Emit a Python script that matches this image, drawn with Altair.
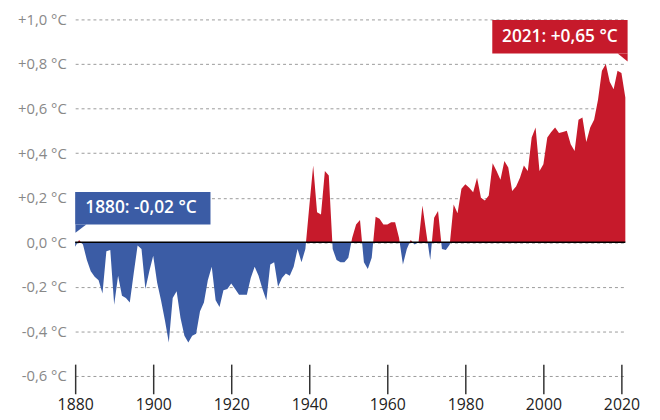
import altair as alt
import pandas as pd

RED = "#c61a2b"
BLUE = "#3b5ca5"

years = list(range(1880, 2022))
anom = [
    # 1880-1889
    -0.02, 0.01, -0.01, -0.08, -0.13, -0.155, -0.17, -0.23, -0.04, -0.035,
    # 1890-1899
    -0.28, -0.15, -0.24, -0.25, -0.27, -0.14, -0.015, -0.03, -0.21, -0.13,
    # 1900-1909
    -0.06, -0.18, -0.26, -0.35, -0.45, -0.25, -0.22, -0.34, -0.42, -0.45,
    # 1910-1919
    -0.42, -0.41, -0.31, -0.27, -0.17, -0.11, -0.26, -0.29, -0.215, -0.21,
    # 1920-1929
    -0.185, -0.21, -0.235, -0.235, -0.235, -0.16, -0.11, -0.15, -0.21, -0.26,
    # 1930-1939
    -0.10, -0.09, -0.20, -0.16, -0.14, -0.15, -0.11, -0.03, -0.09, -0.03,
    # 1940-1949
    0.16, 0.345, 0.135, 0.125, 0.32, 0.30, -0.03, -0.08, -0.09, -0.09,
    # 1950-1959
    -0.07, 0.02, 0.08, 0.10, -0.09, -0.12, -0.07, 0.115, 0.105, 0.08,
    # 1960-1969
    0.08, 0.09, 0.09, 0.02, -0.10, -0.03, 0.01, -0.01, 0.0, 0.165,
    # 1970-1979
    0.04, -0.08, 0.11, 0.14, -0.03, -0.035, -0.01, 0.17, 0.13, 0.24,
    # 1980-1989
    0.26, 0.245, 0.225, 0.29, 0.20, 0.187, 0.21, 0.355, 0.32, 0.28,
    # 1990-1999
    0.365, 0.335, 0.23, 0.25, 0.29, 0.345, 0.32, 0.47, 0.515, 0.32,
    # 2000-2009
    0.35, 0.47, 0.495, 0.515, 0.49, 0.495, 0.50, 0.44, 0.41, 0.55,
    # 2010-2019
    0.56, 0.45, 0.515, 0.55, 0.64, 0.77, 0.80, 0.72, 0.687, 0.77,
    # 2020-2021
    0.76, 0.65,
]

y_ticks = [-0.6, -0.4, -0.2, 0.0, 0.2, 0.4, 0.6, 0.8, 1.0]
x_ticks = list(range(1880, 2021, 10))

df = pd.DataFrame({"year": years, "anomaly": anom})


def fmt_label(y, v):
    sign = "+" if v > 0 else ("-" if v < 0 else "")
    return f"{y}: {sign}{abs(v):.2f}".replace(".", ",") + " °C"


ann_first = pd.DataFrame({"year": [years[0]], "anomaly": [anom[0]],
                          "label": [fmt_label(years[0], anom[0])]})
ann_last = pd.DataFrame({"year": [years[-1]], "anomaly": [anom[-1]],
                         "label": [fmt_label(years[-1], anom[-1])]})

vmax, vmin = max(anom), min(anom)
z = vmax / (vmax - vmin)
grad = alt.Gradient(
    gradient="linear",
    stops=[
        alt.GradientStop(color=RED, offset=0),
        alt.GradientStop(color=RED, offset=z),
        alt.GradientStop(color=BLUE, offset=z),
        alt.GradientStop(color=BLUE, offset=1),
    ],
    x1=0, x2=0, y1=0, y2=1,
)

x_enc = alt.X(
    "year:Q",
    scale=alt.Scale(domain=[1880, 2021], nice=False, zero=False),
    axis=alt.Axis(
        values=x_ticks,
        labelExpr="datum.value % 20 == 0 ? toString(datum.value) : ''",
        title=None, grid=False, domain=False,
        tickSize=30, tickColor="#333333", tickWidth=1.5,
        labelFontSize=16, labelColor="#222222", labelFont="Open Sans",
        offset=-12, labelPadding=3, labelFlush=False, labelOverlap=False,
    ),
)
y_enc = alt.Y(
    "anomaly:Q",
    scale=alt.Scale(domain=[-0.6, 1.0], nice=False),
    axis=alt.Axis(
        values=y_ticks,
        labelExpr="(datum.value > 0.001 ? '+' : (datum.value < -0.001 ? '-' : '')) + replace(format(abs(datum.value), '.1f'), '.', ',') + ' °C'",
        title=None, domain=False, ticks=False,
        grid=True, gridDash=[3, 3], gridColor="#9a9a9a", gridWidth=1,
        labelColor="#888888", labelFontSize=15, labelFont="Open Sans",
        labelPadding=9,
    ),
)

area = alt.Chart(df).mark_area(color=grad, interpolate="linear").encode(
    x=x_enc, y=y_enc, y2=alt.datum(0)
)

zero = alt.Chart(pd.DataFrame({"v": [0.0]})).mark_rule(
    color="black", strokeWidth=1.5
).encode(y="v:Q")

# annotation for first year
rect1 = alt.Chart(ann_first).mark_rect(
    color=BLUE, xOffset=0, x2Offset=137, yOffset=-55.5, y2Offset=-22.5
).encode(x="year:Q", x2="year", y="anomaly:Q", y2="anomaly")
tri1 = alt.Chart(ann_first).mark_point(
    shape="M-1,-1L1,-1L-1,0.5Z", size=121, filled=True, color=BLUE,
    opacity=1, strokeWidth=0, xOffset=5.8, yOffset=-17
).encode(x="year:Q", y="anomaly:Q")
text1 = alt.Chart(ann_first).mark_text(
    align="left", baseline="middle", dx=10.3, dy=-39, color="white",
    fontSize=17.5, fontWeight=600, font="Open Sans"
).encode(x="year:Q", y="anomaly:Q", text="label:N")

# annotation for last year
rect2 = alt.Chart(ann_last).mark_rect(
    color=RED, xOffset=-134.7, x2Offset=2.3, yOffset=-78.4, y2Offset=-44.4
).encode(x="year:Q", x2="year", y="anomaly:Q", y2="anomaly")
tri2 = alt.Chart(ann_last).mark_point(
    shape="M-1,-1L1,-1L1,0.6Z", size=100, filled=True, color=RED,
    opacity=1, strokeWidth=0, xOffset=-2.7, yOffset=-39.4
).encode(x="year:Q", y="anomaly:Q")
text2 = alt.Chart(ann_last).mark_text(
    align="right", baseline="middle", dx=-7.7, dy=-61.4, color="white",
    fontSize=17.5, fontWeight=600, font="Open Sans"
).encode(x="year:Q", y="anomaly:Q", text="label:N")

chart = alt.layer(
    area, zero, rect1, tri1, text1, rect2, tri2, text2
).properties(
    width=557, height=361,
    autosize=alt.AutoSizeParams(type="none"),
    padding={"left": 68, "top": 9, "right": 27, "bottom": 42},
    background="white",
).configure_view(stroke=None)

chart.save("out.html", embed_options={"renderer": "svg", "actions": False})
